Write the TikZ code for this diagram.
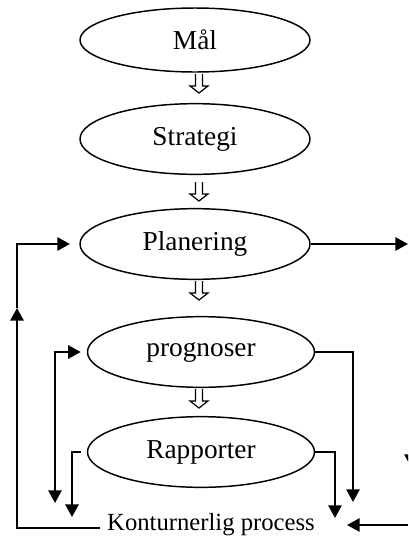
\documentclass[tikz,border=0pt]{standalone}
\usepackage{fontspec}
\setmainfont{Liberation Serif}
\usetikzlibrary{shapes.geometric,arrows.meta}

\tikzset{
  stage/.style={ellipse, draw, line width=1.1pt, inner sep=0pt,
    minimum width=172.5pt, minimum height=53pt,
    font=\fontsize{20.5pt}{24pt}\selectfont},
  flow/.style={line width=1.4pt, -{Triangle[length=9.5pt,width=10pt]}},
  bothflow/.style={line width=1.4pt,
    {Triangle[length=9.5pt,width=10pt]}-{Triangle[length=9.5pt,width=10pt]}},
  hollow/.style={line width=0.9pt, line join=miter},
}

% open block arrow pointing down, top at #1
\newcommand\blockarrow[1]{%
  \draw[hollow] (#1) ++(-3.5,0) -- ++(0,12) -- ++(-5.5,0) -- ++(9,7)
    -- ++(9,-7) -- ++(-5.5,0) -- ++(0,-12);}

\begin{document}
\begin{tikzpicture}[x=0.75pt, y=-0.75pt]
\useasboundingbox (0,0) rectangle (408,544);
\clip (0,0) rectangle (408,544);

% stages
\node[stage, minimum height=48pt]   (mal)   at (195,40)  {Mål};
\node[stage]                        (strat) at (195,139) {Strategi};
\node[stage]                        (plan)  at (195,244) {Planering};
\node[stage, minimum width=170.25pt] (prog) at (201,352) {prognoser};
\node[stage, minimum width=170.25pt] (rap)  at (201,452) {Rapporter};
\node[font=\fontsize{18.5pt}{22pt}\selectfont, inner sep=5pt] (kont)
  at (211,525) {Konturnerlig process};

% block arrows between stages
\coordinate (b1) at (199,74);
\coordinate (b2) at (199,182);
\coordinate (b3) at (199,281);
\coordinate (b4) at (199,389);
\blockarrow{b1}
\blockarrow{b2}
\blockarrow{b3}
\blockarrow{b4}

% feedback loop on the left
\coordinate (lup) at (17,308);
\draw[flow] ([yshift=-2pt]kont.west) -| (lup);
\draw[flow] (lup) |- ([xshift=-7pt]plan.west);

% output of planning
\coordinate (pout) at (408,244);
\draw[flow] (plan.east) -- (pout);

% prognoses
\coordinate (pl) at (55,503);
\draw[bothflow] (pl) |- ([xshift=-4.5pt]prog.west);
\coordinate (pr) at (353,502);
\draw[flow] (prog.east) -| (pr);

% reports
\coordinate (rl) at (72,517);
\draw[flow] ([xshift=-4.5pt]rap.west) -| (rl);
\coordinate (rr) at (335,518);
\draw[flow] (rap.east) -| (rr);

% inputs from the right
\coordinate (kin)  at (408,525);
\coordinate (kend) at (347,525);
\draw[flow] (kin) -- (kend);
\coordinate (edge1) at (411,440);
\coordinate (edge2) at (411,467);
\draw[flow] (edge1) -- (edge2);
\end{tikzpicture}
\end{document}
